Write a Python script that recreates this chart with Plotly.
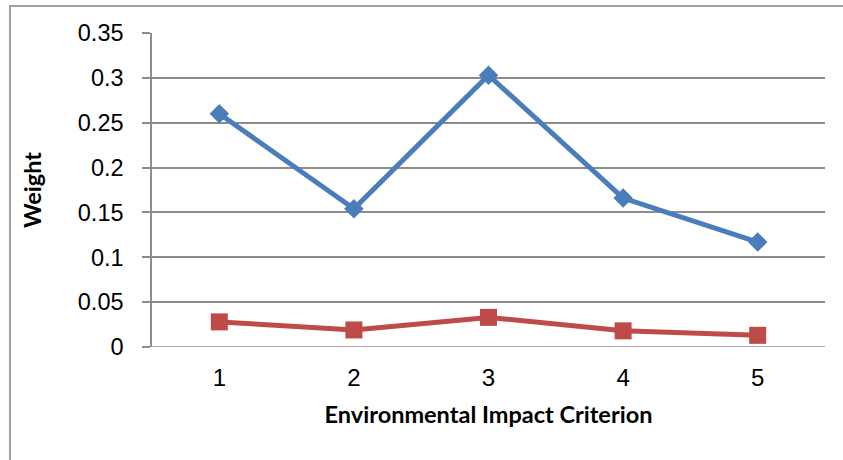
import plotly.graph_objects as go

# Criterion labels and the two weight series
criteria = ["1", "2", "3", "4", "5"]
weights_upper = [0.26, 0.154, 0.303, 0.166, 0.117]
weights_lower = [0.028, 0.019, 0.033, 0.018, 0.013]
y_ticks = [0, 0.05, 0.1, 0.15, 0.2, 0.25, 0.3, 0.35]
y_tick_text = ["0", "0.05", "0.1", "0.15", "0.2", "0.25", "0.3", "0.35"]

fig = go.Figure()
fig.add_trace(go.Scatter(
    x=criteria, y=weights_upper, mode="lines+markers",
    line=dict(color="#4A7EBB", width=5),
    marker=dict(symbol="diamond", size=15, color="#4A7EBB"),
    showlegend=False,
))
fig.add_trace(go.Scatter(
    x=criteria, y=weights_lower, mode="lines+markers",
    line=dict(color="#BE4B48", width=5),
    marker=dict(symbol="square", size=17, color="#BE4B48"),
    showlegend=False,
))

fig.update_layout(
    width=843, height=460,
    margin=dict(l=152, r=18, t=33, b=113),
    paper_bgcolor="white", plot_bgcolor="white",
    font=dict(family="Liberation Sans, Arial", color="black"),
    xaxis=dict(
        type="category", range=[-0.5, 4.5],
        showgrid=False, showline=False, ticks="",
        tickfont=dict(size=24), ticklabelstandoff=14,
        title=dict(text="<b>Environmental Impact Criterion</b>",
                   font=dict(family="Lato, Open Sans", size=23.5), standoff=16),
    ),
    yaxis=dict(
        range=[0, 0.35], tickvals=y_ticks, ticktext=y_tick_text,
        showgrid=True, gridcolor="#8C8C8C", gridwidth=1.5,
        showline=True, linecolor="#8C8C8C", linewidth=1.5,
        ticks="outside", ticklen=8, tickcolor="#8C8C8C", tickwidth=1.5,
        tickfont=dict(size=23.5), ticklabelstandoff=14, zeroline=False,
        title=dict(text="<b>Weight</b>",
                   font=dict(family="Lato, Open Sans", size=23.5), standoff=30),
    ),
)

# Gridline at zero drawn across the plot like the other gridlines
fig.add_shape(type="line", xref="paper", yref="y", x0=0, x1=1, y0=0, y1=0,
              line=dict(color="#8C8C8C", width=1.5))

# Chart frame (left and top edges visible)
fig.add_shape(type="rect", xref="paper", yref="paper",
              x0=(10 - 152) / 673, x1=1.2, y0=1 + 27 / 314, y1=-0.5,
              line=dict(color="#A0A0A0", width=2), layer="below")

fig.write_html("out.html")
